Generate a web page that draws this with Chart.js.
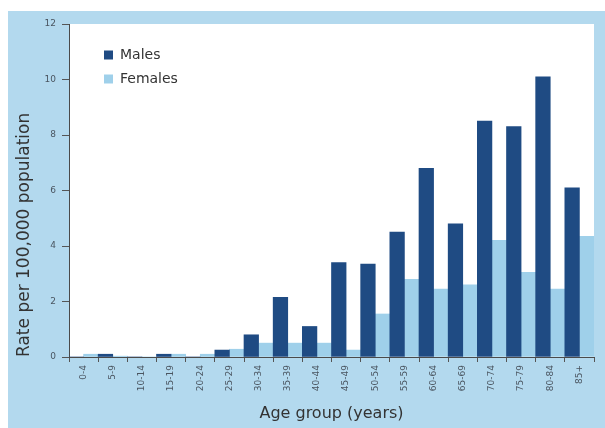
<!DOCTYPE html>
<html>
<head>
<meta charset="utf-8">
<script src="https://cdn.jsdelivr.net/npm/chart.js@4/dist/chart.umd.min.js"></script>
<style>
  html, body { margin: 0; padding: 0; background: #ffffff; }
  #wrap { width: 605px; height: 428px; }
</style>
</head>
<body>
<div id="wrap"><canvas id="c" width="605" height="428"></canvas></div>
<script>
const categories = ["0-4","5-9","10-14","15-19","20-24","25-29","30-34","35-39","40-44","45-49","50-54","55-59","60-64","65-69","70-74","75-79","80-84","85+"];
const males   = [0, 0.1, 0, 0.1, 0, 0.25, 0.8, 2.15, 1.1, 3.4, 3.35, 4.5, 6.8, 4.8, 8.5, 8.3, 10.1, 6.1];
const females = [0.1, 0.03, 0, 0.1, 0.1, 0.28, 0.5, 0.5, 0.5, 0.25, 1.55, 2.8, 2.45, 2.6, 4.2, 3.05, 2.45, 4.35];
const yTicks = [0, 2, 4, 6, 8, 10, 12];

const panelPlugin = {
  id: 'panel',
  beforeDraw(chart) {
    const ctx = chart.ctx, a = chart.chartArea;
    ctx.save();
    ctx.fillStyle = '#ffffff';
    ctx.fillRect(0, 0, chart.width, chart.height);
    ctx.fillStyle = '#b3d9ee';
    ctx.fillRect(8, 11, chart.width - 8, chart.height - 11);
    ctx.fillStyle = '#ffffff';
    ctx.fillRect(a.left, a.top, a.right - a.left, a.bottom - a.top);
    ctx.restore();
  }
};
const legendShift = {
  id: 'legendShift',
  afterLayout(chart) {
    const l = chart.legend;
    if (!l) return;
    l.left += 25; l.right += 25;
    l.top += 38; l.bottom += 38;
  }
};

new Chart(document.getElementById('c'), {
  type: 'bar',
  data: {
    labels: categories,
    datasets: [
      { label: 'Males', data: males, backgroundColor: '#1f4b83', borderWidth: 0 },
      { label: 'Females', data: females, backgroundColor: '#9fd0ea', borderWidth: 0 }
    ]
  },
  options: {
    responsive: false,
    animation: false,
    devicePixelRatio: 1,
    layout: { padding: { left: 8, top: 24, right: 11, bottom: 0 } },
    datasets: { bar: { categoryPercentage: 1.0, barPercentage: 1.0 } },
    plugins: {
      tooltip: { enabled: false },
      legend: {
        position: 'chartArea',
        align: 'start',
        labels: {
          boxWidth: 9, boxHeight: 9, padding: 10,
          color: '#333333',
          font: { family: 'DejaVu Sans', size: 14 }
        }
      }
    },
    scales: {
      x: {
        afterFit(s) { s.height = 71; },
        grid: { display: true, drawOnChartArea: false, drawTicks: true, tickLength: 5, color: '#555555', offset: true },
        border: { display: true, color: '#4a4a4a', width: 1 },
        ticks: {
          autoSkip: false, minRotation: 90, maxRotation: 90, padding: 3,
          color: '#4a5560', font: { family: 'DejaVu Sans', size: 9 }
        },
        title: {
          display: true, text: 'Age group (years)', color: '#333333',
          font: { family: 'DejaVu Sans', size: 16 }, padding: { top: 0, bottom: 5 }
        }
      },
      y: {
        min: 0, max: 12,
        afterFit(s) { s.width = 61; },
        afterBuildTicks(s) { s.ticks = yTicks.map(v => ({ value: v })); },
        grid: { display: true, drawOnChartArea: false, drawTicks: true, tickLength: 7, color: '#555555' },
        border: { display: true, color: '#4a4a4a', width: 1 },
        ticks: { padding: 6, color: '#4a5560', font: { family: 'DejaVu Sans', size: 9 } },
        title: {
          display: true, text: 'Rate per 100,000 population', align: 'start', color: '#333333',
          font: { family: 'DejaVu Sans', size: 17 }, padding: { top: 6, bottom: 0 }
        }
      }
    }
  },
  plugins: [panelPlugin, legendShift]
});
</script>
</body>
</html>
